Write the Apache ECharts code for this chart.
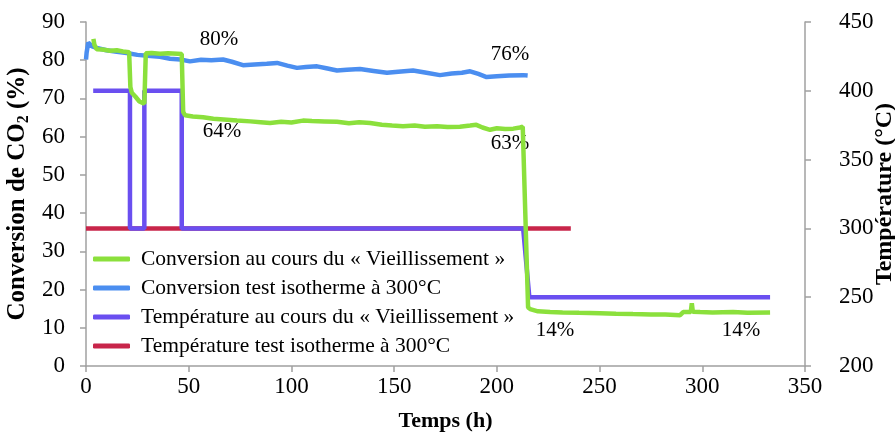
<!DOCTYPE html>
<html>
<head>
<meta charset="utf-8">
<script src="https://cdn.jsdelivr.net/npm/echarts@6/dist/echarts.min.js"></script>
<style>
html,body{margin:0;padding:0;background:#fff;}
#chart{width:895px;height:435px;}
</style>
</head>
<body>
<div id="chart"></div>
<script>
// ---- Data (time in h, conversion in %, temperature in °C) ----
const conversionVieillissement = [
  [3.6,85.6],[4.1,84.0],[5.2,82.9],[8,82.8],[11.7,82.5],[15,82.6],[18,82.3],[21.0,82.1],
  [21.6,73],[22.3,71.5],[24,70.5],[26,69.2],[28.4,68.6],[29.1,81.8],[32,81.9],[36,81.7],
  [40,81.8],[44.5,81.7],[46.6,81.6],[47.3,66.5],[48.2,65.6],[52,65.3],[57,65.1],[62,64.7],
  [67,64.5],[73.5,64.2],[80,64.0],[85,63.8],[89.6,63.6],[95,63.9],[100,63.7],[105.6,64.2],
  [110,64.1],[116,64.0],[122.2,63.9],[128,63.5],[133,63.8],[138.3,63.6],[144,63.1],[149,62.9],
  [154.3,62.7],[160,62.9],[165,62.6],[170.9,62.7],[176,62.5],[182,62.6],[187,62.9],[190,63.1],
  [193,62.4],[196.7,61.8],[200,62.2],[204,62.0],[208,62.1],[211.3,62.4],[212.6,62.6],
  [215.2,15.3],[216.2,14.9],[220,14.3],[225.9,14.1],[232,14.0],[240,13.9],[250.2,13.8],
  [258,13.7],[266.3,13.6],[275,13.5],[282,13.5],[289.2,13.3],[290.7,14.1],[294.4,14.1],
  [294.9,16.4],[295.4,14.2],[298.9,14.1],[305,14.0],[315,14.1],[322,13.9],[333,14.0]
];
const conversionIsotherme = [
  [0,80.2],[0.3,82],[1.1,84.6],[3,83.6],[5.2,83.2],[10,82.6],[15,82.2],[19.8,81.9],[25,81.4],
  [30,81.2],[36,80.9],[40.9,80.4],[46,80.2],[50.6,79.7],[56,80.1],[61,80.0],[66.7,80.2],
  [71,79.6],[76.4,78.7],[82,78.9],[88,79.1],[93,79.3],[98,78.6],[102.7,78.0],[107,78.2],
  [112.5,78.4],[117,77.9],[122.2,77.3],[127,77.5],[133.4,77.7],[140,77.2],[146.5,76.7],
  [152,77.0],[159.2,77.3],[165,76.8],[172.3,76.1],[178,76.5],[183,76.7],[187,77.1],
  [191,76.4],[195,75.6],[200,75.8],[206,76.0],[212.8,76.1],[215,76.0]
];
const temperatureVieillissement = [
  [3.5,400],[21.4,400],[21.4,300],[28.4,300],[28.4,400],[46.6,400],[46.6,300],
  [212.8,300],[215.8,250],[333,250]
];
const temperatureIsotherme = [[0,300],[236,300]];
const annotations = [
  [64.8,85.4,'80%'],[206.4,81.5,'76%'],[66.2,61.3,'64%'],[206.4,58.2,'63%'],
  [228.3,9.4,'14%'],[318.9,9.4,'14%']
];
const seriesNames = [
  'Conversion au cours du « Vieillissement »',
  'Conversion test isotherme à 300°C',
  'Température au cours du « Vieillissement »',
  'Température test isotherme à 300°C'
];
const xTicks = {min:0, max:350, interval:50};
const yLeftTicks = {min:0, max:90, interval:10};
const yRightTicks = {min:200, max:450, interval:50};

const FONT = '"Liberation Serif","Times New Roman",serif';
const colors = {green:'#8be03c', blue:'#4b8ef0', purple:'#6a4ff0', red:'#c8254a'};
const axisGray = '#a0a0a0';

const chart = echarts.init(document.getElementById('chart'));
const baseAxis = {
  axisLine:{show:true, lineStyle:{color:axisGray, width:1.5}},
  axisTick:{show:true, inside:false, length:6, lineStyle:{color:axisGray, width:1.5}},
  splitLine:{show:false},
  axisLabel:{color:'#000', fontFamily:FONT, fontSize:23},
  nameMoveOverlap:false
};
chart.setOption({
  animation:false,
  backgroundColor:'#fff',
  grid:{left:86, right:90, top:22, bottom:69, containLabel:false, outerBoundsMode:'none'},
  legend:{
    orient:'vertical', left:88, top:243,
    data:seriesNames,
    icon:'roundRect', itemWidth:37, itemHeight:5, itemGap:7,
    textStyle:{fontFamily:FONT, fontSize:21.5, color:'#000', lineHeight:22, padding:[0,0,0,6]}
  },
  xAxis:Object.assign({}, baseAxis, {
    type:'value', min:xTicks.min, max:xTicks.max, interval:xTicks.interval,
    axisLabel:Object.assign({}, baseAxis.axisLabel, {margin:9}),
    name:'Temps (h)', nameLocation:'middle', nameGap:44,
    nameTextStyle:{fontFamily:FONT, fontWeight:'bold', fontSize:22, color:'#000'}
  }),
  yAxis:[
    Object.assign({}, baseAxis, {
      type:'value', min:yLeftTicks.min, max:yLeftTicks.max, interval:yLeftTicks.interval,
      position:'left',
      axisLabel:Object.assign({}, baseAxis.axisLabel, {margin:21}),
      name:'Conversion de CO{sub|2} (%)', nameLocation:'middle', nameGap:54,
      nameTextStyle:{fontFamily:FONT, fontWeight:'bold', fontSize:25, color:'#000',
        rich:{sub:{fontFamily:FONT, fontWeight:'bold', fontSize:16, color:'#000', padding:[12,0,0,0]}}}
    }),
    Object.assign({}, baseAxis, {
      type:'value', min:yRightTicks.min, max:yRightTicks.max, interval:yRightTicks.interval,
      position:'right',
      axisLabel:Object.assign({}, baseAxis.axisLabel, {margin:20, align:'left', padding:[0,0,0,14]}),
      name:'Température (°C)', nameLocation:'middle', nameGap:68,
      nameTextStyle:{fontFamily:FONT, fontWeight:'bold', fontSize:24, color:'#000'}
    })
  ],
  series:[
    {name:seriesNames[3], type:'line', yAxisIndex:1, data:temperatureIsotherme, showSymbol:false,
     symbol:'none', lineStyle:{color:colors.red, width:4.5}, itemStyle:{color:colors.red}},
    {name:seriesNames[2], type:'line', yAxisIndex:1, data:temperatureVieillissement, showSymbol:false,
     symbol:'none', lineStyle:{color:colors.purple, width:4.5}, itemStyle:{color:colors.purple}},
    {name:seriesNames[1], type:'line', yAxisIndex:0, data:conversionIsotherme, showSymbol:false,
     symbol:'none', lineStyle:{color:colors.blue, width:4.5}, itemStyle:{color:colors.blue}},
    {name:seriesNames[0], type:'line', yAxisIndex:0, data:conversionVieillissement, showSymbol:false,
     symbol:'none', lineStyle:{color:colors.green, width:4.5}, itemStyle:{color:colors.green}},
    {name:'annotations', type:'scatter', yAxisIndex:0, data:annotations, symbolSize:0, silent:true,
     itemStyle:{opacity:1, color:'#000'},
     label:{show:true, position:'inside', formatter:p=>p.data[2], fontFamily:FONT, fontSize:21, color:'#000', opacity:1}}
  ]
});
</script>
</body>
</html>
